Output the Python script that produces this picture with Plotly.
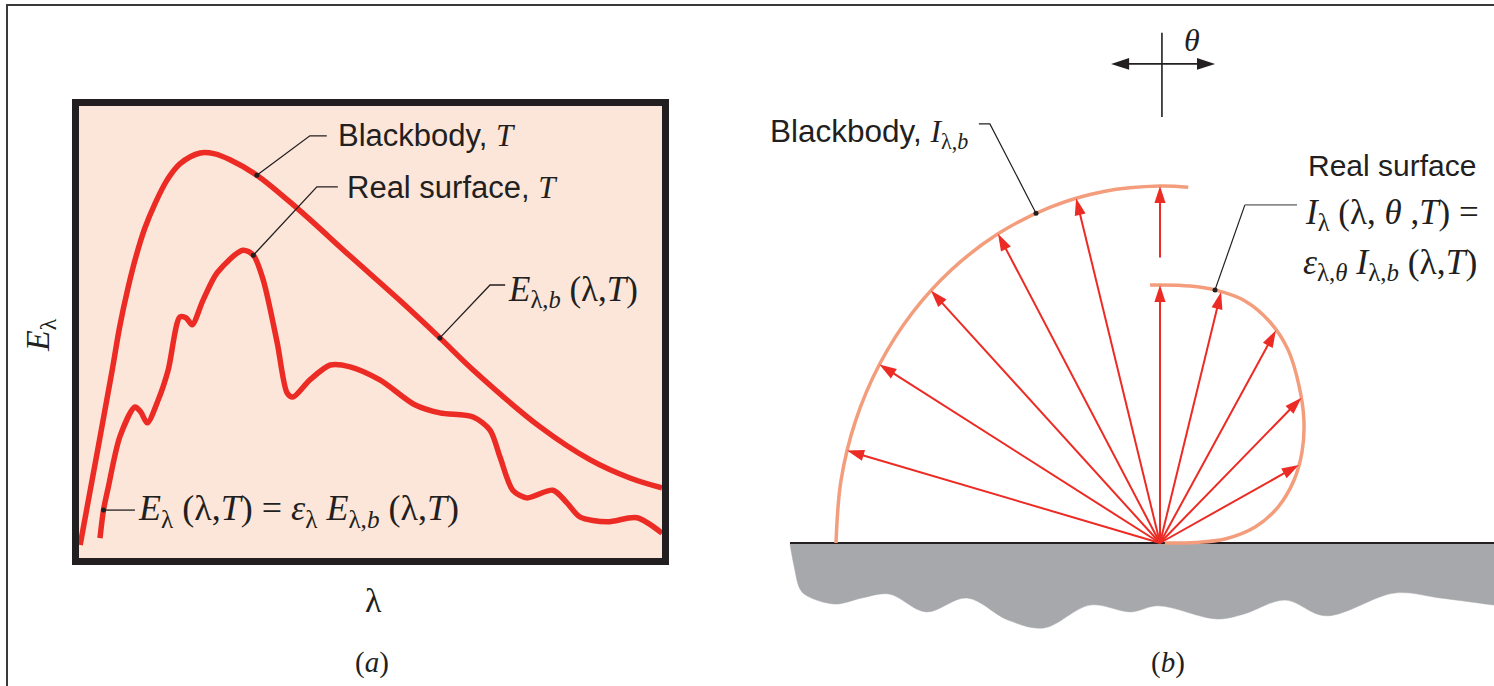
import numpy as np
import plotly.graph_objects as go

W, H = 1494, 686

# ---------------- (a) spectral emissive power (arbitrary units) ----------------
wl_bb = [0.02, 0.31, 0.57, 0.70, 0.84, 0.98, 1.13, 1.30, 1.51, 1.73, 2.08, 2.33,
         2.59, 3.05, 3.74, 4.65, 5.51, 6.19, 6.76, 7.91, 8.77, 9.45, 10.0]
E_bb = [0.29, 2.32, 4.16, 5.13, 5.97, 6.68, 7.30, 7.83, 8.36, 8.72, 8.96, 8.94,
        8.81, 8.47, 7.74, 6.68, 5.69, 4.87, 4.16, 2.90, 2.17, 1.77, 1.55]

wl_real = [0.36, 0.42, 0.50, 0.70, 0.96, 1.06, 1.17, 1.36, 1.53, 1.73, 1.84, 1.94,
           2.13, 2.37, 2.81, 2.99, 3.16, 3.40, 3.57, 3.67, 3.96, 4.31, 4.65, 5.16,
           5.76, 6.19, 6.76, 7.05, 7.22, 7.44, 7.68, 8.13, 8.37, 8.59, 9.06, 9.57, 10.0]
E_real = [0.44, 1.06, 1.55, 2.68, 3.34, 3.23, 2.99, 3.50, 4.16, 5.33, 5.31, 5.16,
          5.71, 6.31, 6.81, 6.70, 6.15, 4.76, 3.65, 3.56, 3.94, 4.27, 4.23, 3.94,
          3.39, 3.21, 3.12, 2.83, 2.24, 1.50, 1.33, 1.50, 1.22, 0.91, 0.80, 0.89, 0.55]

# ---------------- (b) directional intensity, blackbody value = 1 ----------------
theta_bb = [-90, -80, -70, -60, -50, -40, -30, -20, -10, 0, 5]
I_bb = [1.0, 1.0, 1.0, 1.0, 1.0, 1.0, 1.0, 1.0, 1.0, 1.0, 1.0]

theta_real = [-2.45, 0, 7.33, 13.47, 21.15, 28.74, 36.16, 44.10, 52.22, 59.82,
              66.89, 74.53, 81.31, 86.80, 89.26, 90]
I_real = [0.723, 0.723, 0.726, 0.729, 0.727, 0.706, 0.670, 0.616, 0.562, 0.507,
          0.450, 0.378, 0.297, 0.201, 0.108, 0.015]

ray_theta_bb = [-75, -60, -45, -30, -15, 0]
ray_I_bb = [1.0, 1.0, 1.0, 1.0, 1.0, 1.0]
ray_from_bb = [0.0, 0.0, 0.0, 0.0, 0.0, 0.80]

ray_theta_real = [0, 15, 31, 47, 63]
ray_I_real = [0.723, 0.728, 0.695, 0.597, 0.481]

# rough underside of the emitting body
ground_x = [-1.142, -1.130, -1.111, -1.090, -1.003, -0.920, -0.836, -0.722, -0.596,
            -0.469, -0.358, -0.216, -0.090, -0.006, 0.176, 0.259, 0.386, 0.512,
            0.725, 0.864, 1.031]
ground_y = [-0.003, -0.062, -0.129, -0.148, -0.171, -0.154, -0.143, -0.193, -0.154,
            -0.216, -0.238, -0.174, -0.193, -0.176, -0.213, -0.199, -0.160, -0.204,
            -0.140, -0.154, -0.174]

RED = "#EC2B24"
SALMON = "#F49D7C"
INK = "#231F20"
SANS = "Liberation Sans, Arial, sans-serif"
SERIF = "Liberation Serif, Times New Roman, serif"


def polar_xy(theta_deg, r):
    t = np.radians(np.asarray(theta_deg, dtype=float))
    r = np.asarray(r, dtype=float)
    return r * np.sin(t), r * np.cos(t)


def pxx(x):
    return x / W


def pxy(y):
    return 1 - y / H


fig = go.Figure()

# ---- panel (a) ----
fig.add_trace(go.Scatter(x=wl_bb, y=E_bb, mode="lines",
                         line=dict(color=RED, width=5.5, shape="spline", smoothing=1),
                         xaxis="x", yaxis="y", cliponaxis=True))
fig.add_trace(go.Scatter(x=wl_real, y=E_real, mode="lines",
                         line=dict(color=RED, width=5.5, shape="spline", smoothing=0.8),
                         xaxis="x", yaxis="y", cliponaxis=True))

# leader lines: (point on curve, elbow, end)
leaders_a = [
    (wl_bb[13], E_bb[13], (3.96, 9.34), (4.25, 9.34)),
    (wl_real[15], E_real[15], (4.08, 8.21), (4.44, 8.21)),
    (wl_bb[17], E_bb[17], (7.05, 6.04), (7.31, 6.04)),
    (wl_real[1], E_real[1], (0.96, E_real[1]), (0.96, E_real[1])),
]
for x0, y0, (x1, y1), (x2, y2) in leaders_a:
    fig.add_trace(go.Scatter(x=[x0, x1, x2], y=[y0, y1, y2], mode="lines",
                             line=dict(color=INK, width=1.3),
                             xaxis="x", yaxis="y", cliponaxis=False))
    fig.add_trace(go.Scatter(x=[x0], y=[y0], mode="markers",
                             marker=dict(color=INK, size=5),
                             xaxis="x", yaxis="y", cliponaxis=False))

# ---- panel (b) ----
fig.add_trace(go.Scatter(x=[ground_x[0], ground_x[-1]], y=[0, 0], mode="lines",
                         line=dict(color=INK, width=0.1), xaxis="x2", yaxis="y2",
                         cliponaxis=False))
fig.add_trace(go.Scatter(x=ground_x, y=ground_y, mode="lines", fill="tonexty",
                         fillcolor="#A7A8AB",
                         line=dict(color="#A7A8AB", width=0.5, shape="spline", smoothing=1),
                         xaxis="x2", yaxis="y2", cliponaxis=False))
fig.add_trace(go.Scatter(x=[ground_x[0], ground_x[-1]], y=[0, 0], mode="lines",
                         line=dict(color=INK, width=2), xaxis="x2", yaxis="y2",
                         cliponaxis=False))

bx, by = polar_xy(theta_bb, I_bb)
fig.add_trace(go.Scatter(x=bx, y=by, mode="lines",
                         line=dict(color=SALMON, width=3.5, shape="spline", smoothing=1),
                         xaxis="x2", yaxis="y2", cliponaxis=False))
rx, ry = polar_xy(theta_real, I_real)
fig.add_trace(go.Scatter(x=rx, y=ry, mode="lines",
                         line=dict(color=SALMON, width=3.5, shape="spline", smoothing=1),
                         xaxis="x2", yaxis="y2", cliponaxis=False))


def arrow_trace(xs, ys, color, width, head):
    fig.add_trace(go.Scatter(
        x=xs, y=ys, mode="lines+markers",
        line=dict(color=color, width=width),
        marker=dict(symbol="arrow", size=[0, head], angleref="previous",
                    color=color, opacity=1, line=dict(width=0)),
        xaxis="x2", yaxis="y2", cliponaxis=False))


for th, r0, r1 in zip(ray_theta_bb, ray_from_bb, ray_I_bb):
    sx, sy = polar_xy([th, th], [r0, r1])
    arrow_trace(sx, sy, RED, 2, 18)
for th, r1 in zip(ray_theta_real, ray_I_real):
    sx, sy = polar_xy([th, th], [0.0, r1])
    arrow_trace(sx, sy, RED, 2, 18)

# direction cross for theta
cx, cy = 0.006, 1.342
fig.add_trace(go.Scatter(x=[cx, cx], y=[1.193, 1.429], mode="lines",
                         line=dict(color=INK, width=1.6), xaxis="x2", yaxis="y2",
                         cliponaxis=False))
for xe in (-0.151, 0.170):
    arrow_trace([cx, xe], [cy, cy], INK, 1.6, 19)

# leaders in (b)
dbx, dby = polar_xy([-22.5], [I_bb[0]])
fig.add_trace(go.Scatter(x=[dbx[0], -0.525, -0.559], y=[dby[0], 1.174, 1.174],
                         mode="lines", line=dict(color=INK, width=1.2),
                         xaxis="x2", yaxis="y2", cliponaxis=False))
drx, dry = polar_xy([theta_real[3]], [I_real[3]])
fig.add_trace(go.Scatter(x=[drx[0], 0.262], y=[dry[0], 0.947],
                         mode="lines", line=dict(color=INK, width=1.2),
                         xaxis="x2", yaxis="y2", cliponaxis=False))
fig.add_trace(go.Scatter(x=[0.262, 0.423], y=[0.947, 0.947],
                         mode="lines", line=dict(color="#8A8A8A", width=1.6),
                         xaxis="x2", yaxis="y2", cliponaxis=False))
fig.add_trace(go.Scatter(x=[dbx[0], drx[0]], y=[dby[0], dry[0]], mode="markers",
                         marker=dict(color=INK, size=5),
                         xaxis="x2", yaxis="y2", cliponaxis=False))


# ---- text ----
def label(x, y, text, size=31, family=SANS, anchor="left", angle=0):
    fig.add_annotation(x=pxx(x), y=pxy(y), xref="paper", yref="paper",
                       text=text, showarrow=False, xanchor=anchor, yanchor="middle",
                       textangle=angle, font=dict(family=family, size=size, color=INK))


def m(s):
    return f"<span style='font-family:{SERIF}'>{s}</span>"


label(336, 135, "Blackbody, " + m("<i>T</i>"))
label(345, 188, "Real surface, " + m("<i>T</i>"))
label(506, 292, m("<i>E</i><sub>λ,<i>b</i></sub> (λ,<i>T</i>)"), family=SERIF, size=35)
label(136, 510, m("<i>E</i><sub>λ</sub> (λ,<i>T</i>) = <i>ε</i><sub>λ</sub> "
                  "<i>E</i><sub>λ,<i>b</i></sub> (λ,<i>T</i>)"), family=SERIF, size=36)
label(40, 335, m("<i>E</i><sub>λ</sub>"), family=SERIF, size=34, anchor="center", angle=-90)
label(373, 600, "λ", family=SERIF, size=34, anchor="center")
label(372, 662, "(<i>a</i>)", family=SERIF, size=29, anchor="center")

label(768, 133, "Blackbody, " + m("<i>I</i><sub>λ,<i>b</i></sub>"), size=31.5)
label(1306, 165, "Real surface", size=30)
label(1303, 215, m("<i>I</i><sub>λ</sub> (λ, <i>θ</i> ,<i>T</i>) ="), family=SERIF, size=35)
label(1301, 264, m("<i>ε</i><sub>λ,<i>θ</i></sub> <i>I</i><sub>λ,<i>b</i></sub> (λ,<i>T</i>)"),
      family=SERIF, size=35.5)
label(1192, 40, "<i>θ</i>", family=SERIF, size=32, anchor="center")
label(1168, 662, "(<i>b</i>)", family=SERIF, size=29, anchor="center")

# ---- layout ----
ax_common = dict(showgrid=False, zeroline=False, showticklabels=False, ticks="")
fig.update_layout(
    width=W, height=H, margin=dict(l=0, r=0, t=0, b=0),
    paper_bgcolor="white", plot_bgcolor="rgba(0,0,0,0)", showlegend=False,
    xaxis=dict(domain=[79 / W, 662 / W], range=[0, 10], showline=True, mirror=True,
               linewidth=7, linecolor=INK, **ax_common),
    yaxis=dict(domain=[1 - 558 / H, 1 - 106 / H], range=[0, 10], showline=True,
               mirror=True, linewidth=7, linecolor=INK, **ax_common),
    xaxis2=dict(domain=[760 / W, 1.0], range=[(760 - 1160) / 324, (1494 - 1160) / 324],
                anchor="y2", showline=False, **ax_common),
    yaxis2=dict(domain=[0, 1], range=[(543 - 686) / 357, 543 / 357], anchor="x2",
                showline=False, **ax_common),
    shapes=[
        dict(type="rect", xref="x", yref="y", x0=0, x1=10, y0=0, y1=10,
             fillcolor="#FCE6DA", line=dict(width=0), layer="below"),
        dict(type="rect", xref="paper", yref="paper", x0=7 / W, x1=1.05,
             y0=-0.1, y1=1 - 5 / H, line=dict(color="#3A3A3A", width=2),
             layer="above"),
    ],
)

fig.write_html("out.html")
